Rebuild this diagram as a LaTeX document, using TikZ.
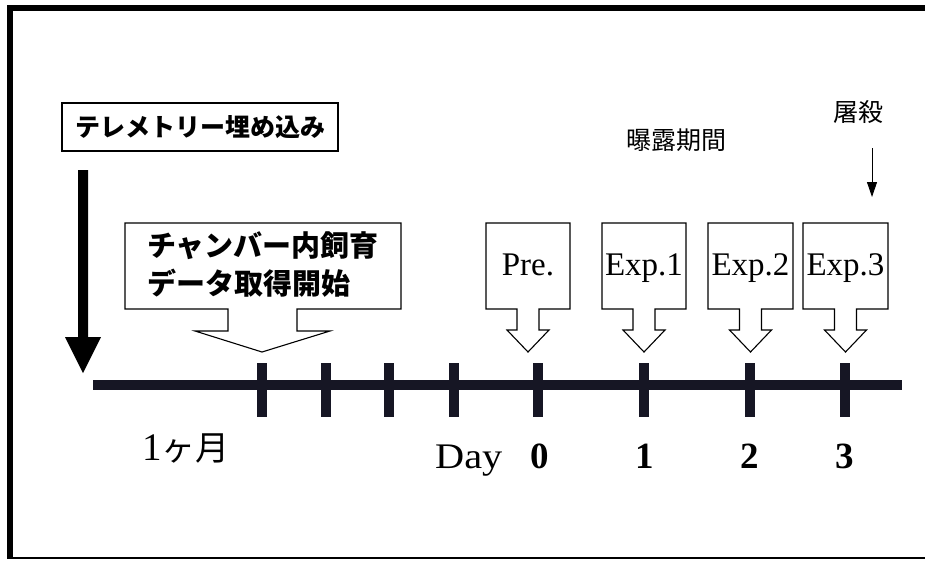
\documentclass[tikz,border=0pt]{standalone}
\usepackage{fontspec}
\usepackage{graphicx}
\setmainfont{Liberation Serif}
\newfontfamily\cjk{Noto Sans CJK JP}
\usetikzlibrary{arrows.meta}
\definecolor{ink}{RGB}{22,22,36}
\tikzset{
  callout/.style={draw=black, line width=1.1pt, fill=white, line join=miter},
  txt/.style={inner sep=0pt, anchor=base},
  expfont/.style={font=\fontsize{33}{33}\selectfont},
  dayfont/.style={font=\fontsize{37}{37}\selectfont\bfseries},
  jpbold/.style={font=\cjk\bfseries\fontsize{25}{25}\selectfont},
  jplight/.style={font=\cjk\fontsize{25}{25}\selectfont},
  tick/.style={line width=10pt, draw=ink},
}
\begin{document}
\begin{tikzpicture}[x=1pt,y=-1pt]
\useasboundingbox (0,0) rectangle (925,560);
\fill[white] (0,0) rectangle (925,560);
% frame
\fill[black] (7,5) rectangle (925,11);
\fill[black] (7,5) rectangle (13,558);
\draw[black, line width=2pt] (7,558) -- (925,558);

% telemetry box
\node[draw=black, line width=1.2pt, minimum width=276pt, minimum height=48pt, inner sep=0pt, jpbold] (tele) at (200,127) {テレメトリー埋め込み};

% thick down arrow
\fill[black] (78,170) -- (88,170) -- (88,337) -- (101,337) -- (83,373) -- (65,337) -- (78,337) -- cycle;

% timeline
\coordinate (tlL) at (93,385);
\coordinate (tlR) at (902,385);
\draw[ink, line width=10pt] (tlL) -- (tlR);
\foreach \x/\n in {262/a,326/b,389/c,454/d,538/e,644/f,750/g,845/h}{
  \coordinate (t\n) at (\x,385);
  \draw[tick] (\x,363) -- (\x,417);
}

% chamber callout
\draw[callout] (125,223) -- (401,223) -- (401,309) -- (297,309) -- (297,331) -- (330,331) -- (262,352) -- (195,331) -- (228,331) -- (228,309) -- (125,309) -- cycle;
\node[inner sep=0pt, anchor=west, font=\cjk\bfseries\fontsize{29}{29}\selectfont] (ch1) at (147,246) {チャンバー内飼育};
\node[inner sep=0pt, anchor=west, font=\cjk\bfseries\fontsize{29}{29}\selectfont] (ch2) at (147,283) {データ取得開始};

% small callouts
\foreach \a/\b/\c/\t/\n in {486/570/528/Pre./pre,602/686/644/Exp.1/e1,708/793/750.5/Exp.2/e2,803/888/845.5/Exp.3/e3}{
  \draw[callout] (\a,223) -- (\b,223) -- (\b,309) -- ({\c+11},309) -- ({\c+11},330) -- ({\c+21},330) -- (\c,352) -- ({\c-21},330) -- ({\c-11},330) -- ({\c-11},309) -- (\a,309) -- cycle;
  \node[txt, expfont] (\n) at (\c,275) {\t};
}

% labels above
\node[jplight] (expo) at (676,140) {曝露期間};
\node[jplight] (kill) at (858,112) {屠殺};
\coordinate (killend) at (872,197);
\draw[black, line width=0.9pt, -{Triangle[length=15pt,width=10pt]}] (872,148) -- (killend);

% bottom labels
\node[inner sep=0pt, anchor=base west] (month) at (142,460) {\fontsize{39}{39}\selectfont 1\cjk\fontsize{34}{34}\selectfont ヶ月};
\node[inner sep=0pt, anchor=base west, font=\fontsize{36}{36}\selectfont] (day) at (435,468) {\scalebox{1.12}[1]{Day}};
\node[txt, dayfont] (d0) at (540,468) {0};
\node[txt, dayfont] (d1) at (645,468) {1};
\node[txt, dayfont] (d2) at (750,468) {2};
\node[txt, dayfont] (d3) at (845,468) {3};
\end{tikzpicture}
\end{document}
